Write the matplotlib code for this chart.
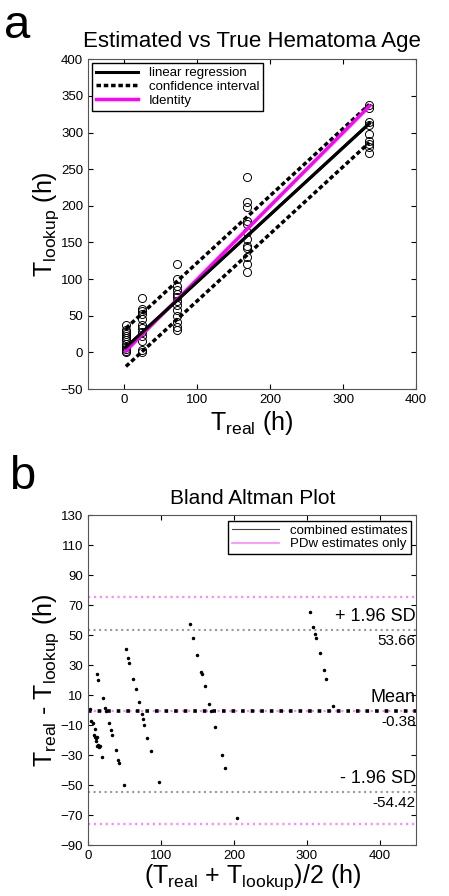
import numpy as np
import matplotlib
matplotlib.use('Agg')
import matplotlib.pyplot as plt
from matplotlib.lines import Line2D

plt.rcParams['font.family'] = ['Liberation Sans', 'DejaVu Sans']
plt.rcParams['mathtext.fontset'] = 'custom'
plt.rcParams['mathtext.rm'] = 'Liberation Sans'
plt.rcParams['mathtext.it'] = 'Liberation Sans'

# --- panel a: estimated vs true age (h) ---
t_real_groups = [2, 24, 72, 168, 336]
t_lookup_groups = [
    [37, 31, 28, 25, 22, 20, 17, 12, 8, 5, 2, 0],
    [74, 59, 57, 52, 45, 38, 33, 28, 22, 15, 3, 0],
    [120, 100, 90, 85, 80, 75, 70, 65, 58, 50, 42, 35, 30],
    [240, 205, 198, 180, 175, 165, 155, 145, 142, 130, 120, 110],
    [337, 334, 315, 310, 298, 288, 285, 280, 272],
]
reg_slope = 0.915
reg_intercept = 5.0
ci_offset = 26.0
line_x = [2, 336]

# --- panel b: Bland Altman ---
ba_mean = [1.4, 2.3, 4.1, 7.3, 10.0, 8.7, 11.9, 10.5, 13.2, 15.0, 12.5, 19.6, 9.6, 11.0, 16.4,
           12.3, 14.2, 20.1, 23.3, 25.1, 28.8, 31.0, 32.9, 37.9, 41.1, 42.0, 49.3,
           51.6, 54.8, 56.6, 62.0, 65.8, 69.9, 73.5, 75.8, 77.2, 81.3, 86.8, 96.8,
           139.7, 144.0, 149.7, 155.0, 156.6, 160.0, 166.0, 167.9, 173.5, 183.6, 187.7, 204.6,
           303.7, 308.7, 311.4, 312.3, 317.8, 322.8, 326.0, 335.0]
ba_diff = [0.2, 1.0, -7.1, -8.7, -12.5, -16.3, -17.6, -20.3, -23.2, -24.3, -23.8, -31.4, -17.6, -18.7, -23.8,
           24.2, 20.4, 8.2, 1.7, -0.7, -8.5, -13.2, -16.7, -26.7, -33.2, -35.0, -49.9,
           41.0, 35.1, 31.6, 20.9, 13.8, 5.3, -2.5, -5.8, -9.6, -18.3, -27.6, -47.7,
           57.4, 47.8, 37.1, 25.6, 24.0, 16.2, 4.0, -0.9, -11.2, -30.0, -38.3, -72.1,
           65.2, 55.6, 50.5, 48.1, 38.1, 26.5, 20.9, 2.9]
comb_mean, comb_upper, comb_lower = -0.38, 53.66, -54.42
pdw_mean, pdw_upper, pdw_lower = -0.9, 75.2, -76.0

pink = '#ff88ff'

fig = plt.figure(figsize=(4.49, 8.96), dpi=100)
ax1 = fig.add_axes([0.196, 0.5658, 0.7305, 0.368])
ax2 = fig.add_axes([0.196, 0.0569, 0.7316, 0.368])

for ax in (ax1, ax2):
    ax.tick_params(direction='in', top=True, right=True, length=3.5, labelsize=9.5, colors='black')
    for s in ax.spines.values():
        s.set_color('#555555')
        s.set_linewidth(0.8)

# panel a
for xr, ys in zip(t_real_groups, t_lookup_groups):
    ax1.plot([xr] * len(ys), ys, 'o', mfc='none', mec='black', ms=5.8, mew=0.7)
lx = np.array(line_x)
reg_y = reg_slope * lx + reg_intercept
l1, = ax1.plot(lx, reg_y, color='black', lw=2.2, label='linear regression')
l2, = ax1.plot(lx, reg_y + ci_offset, color='black', lw=2.5, dashes=(1.3, 0.8), label='confidence interval')
ax1.plot(lx, reg_y - ci_offset, color='black', lw=2.5, dashes=(1.3, 0.8))
l3, = ax1.plot(lx, lx, color='#ff00ff', lw=2.5, label='Identity')
ax1.plot(lx, reg_y, color='black', lw=2.2)
ax1.set_xlim(-50, 400)
ax1.set_ylim(-50, 400)
ax1.set_xticks([0, 100, 200, 300, 400])
ax1.set_yticks(np.arange(-50, 401, 50))
ax1.legend(handles=[l1, l2, l3], loc='upper left', fontsize=9.5, handlelength=3.2,
           fancybox=False, edgecolor='black', framealpha=1, borderaxespad=0.3,
           labelspacing=0.1, borderpad=0.3)
ax1.set_title('Estimated vs True Hematoma Age', fontsize=16, pad=9)
ax1.set_xlabel(r'T$_{\mathrm{real}}$ (h)', fontsize=18, labelpad=2)
ax1.set_ylabel(r'T$_{\mathrm{lookup}}$ (h)', fontsize=18, labelpad=0)

# panel b
ax2.axhline(pdw_upper, color=pink, lw=1.6, ls=':')
ax2.axhline(pdw_lower, color=pink, lw=1.6, ls=':')
ax2.axhline(pdw_mean, color=pink, lw=1.6, ls=':')
ax2.axhline(comb_upper, color='#999999', lw=1.5, ls=':')
ax2.axhline(comb_lower, color='#999999', lw=1.5, ls=':')
ax2.axhline(comb_mean, color='black', lw=2.6, ls=':')
ax2.plot(ba_mean, ba_diff, '.', color='black', ms=3)
ax2.set_xlim(0, 450)
ax2.set_ylim(-90, 130)
ax2.set_xticks([0, 100, 200, 300, 400])
ax2.set_yticks(np.arange(-90, 131, 20))
handles = [Line2D([], [], color='#444444', lw=0.8, label='combined estimates'),
           Line2D([], [], color=pink, lw=1.2, label='PDw estimates only')]
ax2.legend(handles=handles, loc='upper right', fontsize=9.5, handlelength=3.6,
           fancybox=False, edgecolor='black', framealpha=1, borderaxespad=0.4,
           labelspacing=0.1, borderpad=0.3)
for yv, top_txt in [(comb_upper, '+ 1.96 SD'), (comb_mean, 'Mean'), (comb_lower, '- 1.96 SD')]:
    ax2.text(449, yv + 3, top_txt, ha='right', va='bottom', fontsize=13)
    ax2.text(449, yv - 3, '%.2f' % yv, ha='right', va='top', fontsize=11)
ax2.set_title('Bland Altman Plot', fontsize=15, pad=8)
ax2.set_xlabel(r'(T$_{\mathrm{real}}$ + T$_{\mathrm{lookup}}$)/2 (h)', fontsize=18, labelpad=0)
ax2.set_ylabel(r'T$_{\mathrm{real}}$ - T$_{\mathrm{lookup}}$ (h)', fontsize=18, labelpad=0)

fig.text(0.01, 0.995, 'a', fontsize=34, va='top', ha='left')
fig.text(0.02, 0.492, 'b', fontsize=34, va='top', ha='left')

fig.savefig('out.png', dpi=100)
